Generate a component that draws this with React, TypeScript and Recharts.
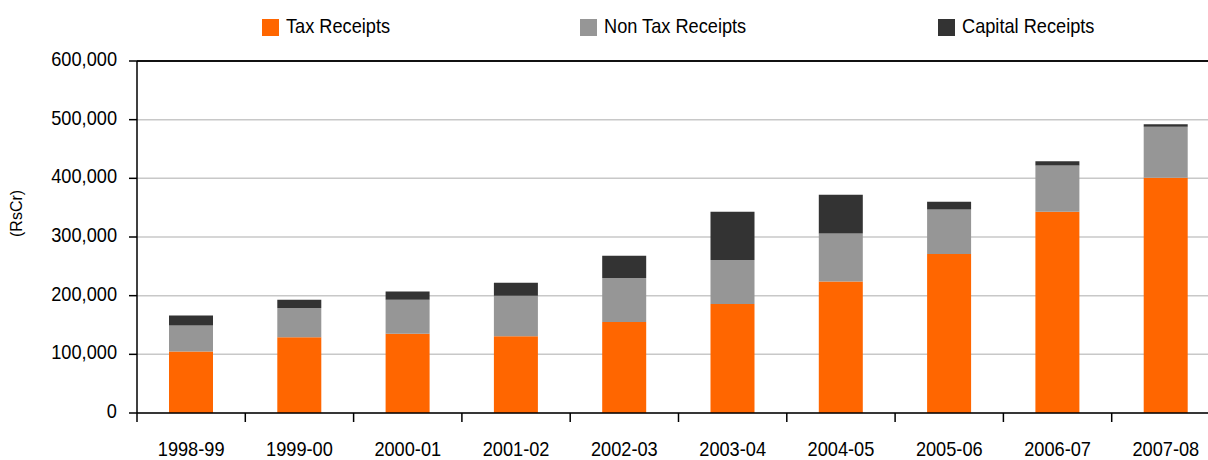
import React from "react";
import { BarChart, Bar, XAxis, YAxis, CartesianGrid, ReferenceLine } from "recharts";

const years = ["1998-99", "1999-00", "2000-01", "2001-02", "2002-03", "2003-04", "2004-05", "2005-06", "2006-07", "2007-08"];
const taxReceipts = [105000, 129000, 135000, 131000, 155000, 186000, 224000, 271000, 343000, 401000];
const nonTaxReceipts = [44000, 50000, 58000, 69000, 75000, 75000, 82000, 76000, 79000, 87000];
const capitalReceipts = [17000, 14000, 14000, 22000, 38000, 82000, 66000, 13000, 7000, 4000];
const yTicks = [0, 100000, 200000, 300000, 400000, 500000, 600000];

const series = [
  { key: "tax", name: "Tax Receipts", color: "#FF6600" },
  { key: "nonTax", name: "Non Tax Receipts", color: "#969696" },
  { key: "capital", name: "Capital Receipts", color: "#333333" },
];

const data = years.map((year, i) => ({
  year,
  tax: taxReceipts[i],
  nonTax: nonTaxReceipts[i],
  capital: capitalReceipts[i],
}));

const FONT = "'Liberation Sans', Arial, sans-serif";
const CHART_W = 1220;
const AXIS_W = 137;
const BAND = (CHART_W - AXIS_W) / years.length;
const legendX = [262, 580, 938];

const fmt = (v: number) => v.toLocaleString("en-US");

function XTick({ x, y, payload, index }: any) {
  return (
    <g>
      <line x1={x - BAND / 2} x2={x - BAND / 2} y1={y} y2={y + 9} stroke="#000" strokeWidth={1.5} />
      {index === years.length - 1 && (
        <line x1={x + BAND / 2} x2={x + BAND / 2} y1={y} y2={y + 9} stroke="#000" strokeWidth={1.5} />
      )}
      <text transform={`translate(${x},${y + 43}) scale(0.91,1)`} textAnchor="middle" fontSize={20} fontFamily={FONT} fill="#000">
        {payload.value}
      </text>
    </g>
  );
}

function YTick({ x, y, payload }: any) {
  return (
    <text transform={`translate(${x},${y + 5}) scale(0.91,1)`} textAnchor="end" fontSize={20} fontFamily={FONT} fill="#000">
      {fmt(payload.value)}
    </text>
  );
}

function LegendBox() {
  return (
    <svg width={1208} height={50} style={{ position: "absolute", left: 0, top: 0 }}>
      {series.map((s, i) => (
        <g key={s.key}>
          <rect x={legendX[i]} y={19} width={17} height={17} fill={s.color} />
          <text transform={`translate(${legendX[i] + 24},33) scale(0.91,1)`} fontSize={20} fontFamily={FONT} fill="#000">
            {s.name}
          </text>
        </g>
      ))}
    </svg>
  );
}

export default function App() {
  return (
    <div style={{ position: "absolute", left: 0, top: 0, width: 1208, height: 460, overflow: "hidden", background: "#fff" }}>
      <BarChart width={CHART_W} height={460} data={data} margin={{ top: 61, right: 0, bottom: 0, left: 0 }} barSize={44}>
        <CartesianGrid vertical={false} stroke="#c8c8c8" strokeWidth={1.5} />
        <XAxis
          dataKey="year"
          height={47}
          tickLine={false}
          tickSize={0}
          tickMargin={0}
          axisLine={{ stroke: "#000", strokeWidth: 1.5 }}
          tick={<XTick />}
          interval={0}
        />
        <YAxis
          width={AXIS_W}
          domain={[0, 600000]}
          ticks={yTicks}
          interval={0}
          tickSize={8}
          tickMargin={12}
          tickLine={{ stroke: "#000", strokeWidth: 1.5 }}
          axisLine={{ stroke: "#000", strokeWidth: 1.5 }}
          tick={<YTick />}
          label={{ value: "(RsCr)", angle: -90, position: "insideLeft", offset: 16, fontSize: 16, fontFamily: FONT, fill: "#000" }}
        />
        <ReferenceLine y={600000} stroke="#111" strokeWidth={2} />
        {series.map((s) => (
          <Bar key={s.key} dataKey={s.key} name={s.name} stackId="a" fill={s.color} isAnimationActive={false} />
        ))}
      </BarChart>
      <LegendBox />
    </div>
  );
}
